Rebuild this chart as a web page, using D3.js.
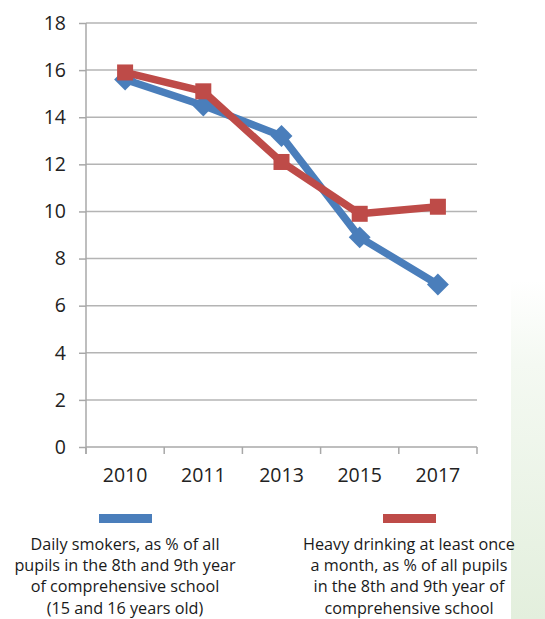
<!DOCTYPE html>
<html><head><meta charset="utf-8">
<script src="https://cdn.jsdelivr.net/npm/d3@7"></script>
<style>body{margin:0;background:#fff}svg{display:block}</style>
</head><body>
<svg id="c" width="545" height="619"></svg>
<script>
const years = ["2010","2011","2013","2015","2017"];
const smokers = [15.6, 14.5, 13.2, 8.9, 6.9];
const drinking = [15.9, 15.1, 12.1, 9.9, 10.2];
const yTicks = [0,2,4,6,8,10,12,14,16,18];
const smokersLabel = ["Daily smokers, as % of all","pupils in the 8th and 9th year","of comprehensive school","(15 and 16 years old)"];
const drinkingLabel = ["Heavy drinking at least once","a month, as % of all pupils","in the 8th and 9th year of","comprehensive school"];

const svg = d3.select("#c");
const defs = svg.append("defs");
const g1 = defs.append("linearGradient").attr("id","gr").attr("x1",0).attr("y1",0).attr("x2",0).attr("y2",1);
g1.append("stop").attr("offset","0%").attr("stop-color","#ffffff");
g1.append("stop").attr("offset","25%").attr("stop-color","#f4f9f2");
g1.append("stop").attr("offset","100%").attr("stop-color","#e3efdd");
svg.append("rect").attr("x",511).attr("y",280).attr("width",34).attr("height",339).attr("fill","url(#gr)");

const x = d3.scaleBand().domain(years).range([86,477]);
const y = d3.scaleLinear().domain([0,18]).range([447,23]);

// gridlines
svg.append("g").selectAll("line").data(yTicks.filter(d=>d>0)).join("line")
  .attr("x1",86).attr("x2",477).attr("y1",d=>y(d)).attr("y2",d=>y(d))
  .attr("stroke","#b4b4b4").attr("stroke-width",1.5);

const yAxis = svg.append("g").attr("transform","translate(86,0)")
  .call(d3.axisLeft(y).tickValues(yTicks).tickSize(7).tickPadding(13));
const xAxis = svg.append("g").attr("transform","translate(0,447)")
  .call(d3.axisBottom(x).tickSize(0).tickPadding(21));
[yAxis,xAxis].forEach(a=>{
  a.select(".domain").attr("stroke","#a8a8a8").attr("stroke-width",1.5);
  a.selectAll(".tick line").attr("stroke","#a8a8a8").attr("stroke-width",1.5);
  a.selectAll("text").attr("fill","#222").attr("font-family","Open Sans, sans-serif").attr("font-size",19.5);
});
// x tick marks at band boundaries
svg.append("g").selectAll("line").data(years.map(d=>x(d)).concat([x.range()[1]])).join("line")
  .attr("x1",d=>d).attr("x2",d=>d).attr("y1",447).attr("y2",454)
  .attr("stroke","#a8a8a8").attr("stroke-width",1.5);
yAxis.select(".domain").attr("d","M0,23V454");
xAxis.select(".domain").attr("d","M86,0H477");

const cx = d => x(d) + x.bandwidth()/2;
const line = d3.line().x((d,i)=>cx(years[i])).y(d=>y(d));

// blue smokers
svg.append("path").datum(smokers).attr("d",line).attr("fill","none")
  .attr("stroke","#4a7ebb").attr("stroke-width",7.5).attr("stroke-linejoin","round");
svg.append("g").selectAll("path").data(smokers).join("path")
  .attr("d",d3.symbol().type(d3.symbolSquare).size(240))
  .attr("transform",(d,i)=>`translate(${cx(years[i])},${y(d)}) rotate(45)`)
  .attr("fill","#4a7ebb");

// red drinking
svg.append("path").datum(drinking).attr("d",line).attr("fill","none")
  .attr("stroke","#be4b48").attr("stroke-width",7.5).attr("stroke-linejoin","round");
svg.append("g").selectAll("rect").data(drinking).join("rect")
  .attr("x",(d,i)=>cx(years[i])-8).attr("y",d=>y(d)-8).attr("width",16).attr("height",16)
  .attr("fill","#be4b48");

// legend
svg.append("rect").attr("x",99).attr("y",514).attr("width",53).attr("height",9).attr("fill","#4a7ebb");
svg.append("rect").attr("x",383).attr("y",514).attr("width",53).attr("height",9).attr("fill","#be4b48");
function block(lines, cxp){
  svg.append("g").selectAll("text").data(lines).join("text")
    .attr("x",cxp).attr("y",(d,i)=>549.5+i*21.4).attr("text-anchor","middle")
    .attr("font-family","Open Sans, sans-serif").attr("font-size",16.2).attr("fill","#1a1a1a")
    .text(d=>d);
}
block(smokersLabel,125);
block(drinkingLabel,409);
</script>
</body></html>
